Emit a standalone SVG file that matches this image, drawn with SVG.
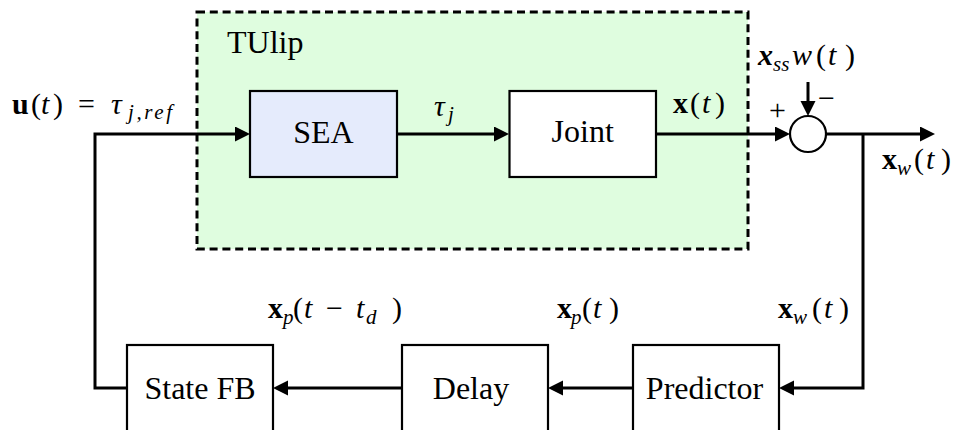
<svg xmlns="http://www.w3.org/2000/svg" width="953" height="430" viewBox="0 0 953 430">
<defs>
<marker id="arr" markerUnits="userSpaceOnUse" markerWidth="16" markerHeight="16" viewBox="0 0 16 16" refX="7" refY="7.5" orient="auto">
<path d="M0,0 L15,7.5 L0,15 z" fill="#000"/>
</marker>
</defs>
<rect fill="#fff" width="953" height="430"/>

<g id="tulip">
<rect x="197" y="12" width="551" height="237" fill="#dffddf" stroke="#000" stroke-width="3" stroke-dasharray="8 4.8"/>
<text x="227" y="53" font-family="Times New Roman, Liberation Serif, Tinos, serif" font-weight="normal" font-size="32">TUlip</text>
</g>

<g id="connectors" fill="none" stroke="#000" stroke-width="3" marker-end="url(#arr)">
<path d="M126.7,388 H95 V134 H242"/>
<path d="M397,134 H501"/>
<path d="M656,134 H782"/>
<path d="M808,82 V108"/>
<path d="M826,134 H927"/>
<path d="M863,134 V388 H787"/>
<path d="M633,388 H556"/>
<path d="M402,388 H281"/>
</g>

<g font-size="32" text-anchor="middle" stroke-width="2.2">
<g id="sea">
<rect x="250" y="91" width="147" height="86" fill="#e5ebfc" stroke="#000"/>
<text x="323.5" y="143" font-family="Times New Roman, Liberation Serif, Tinos, serif" font-weight="normal">SEA</text>
</g>
<g id="joint">
<rect x="509.5" y="91" width="146.5" height="86" fill="#fff" stroke="#000"/>
<text x="582.7" y="142" font-family="Times New Roman, Liberation Serif, Tinos, serif" font-weight="normal">Joint</text>
</g>
<g id="statefb">
<rect x="127" y="345" width="146" height="90" fill="#fff" stroke="#000"/>
<text x="200" y="399" font-family="Times New Roman, Liberation Serif, Tinos, serif" font-weight="normal">State FB</text>
</g>
<g id="delay">
<rect x="402" y="345" width="146" height="90" fill="#fff" stroke="#000"/>
<text x="471" y="399" font-family="Times New Roman, Liberation Serif, Tinos, serif" font-weight="normal">Delay</text>
</g>
<g id="predictor">
<rect x="633" y="345" width="146" height="90" fill="#fff" stroke="#000"/>
<text x="704.5" y="399" font-family="Times New Roman, Liberation Serif, Tinos, serif" font-weight="normal">Predictor</text>
</g>
</g>

<g id="sum" font-size="30">
<circle cx="808" cy="134" r="18" fill="#fff" stroke="#000" stroke-width="2.2"/>
<text x="769" y="120" font-family="Times New Roman, Liberation Serif, Tinos, serif">+</text>
<text x="818" y="107.5" font-family="Times New Roman, Liberation Serif, Tinos, serif">−</text>
</g>

<g id="labels" font-size="30">
<text y="114" font-family="Times New Roman, Liberation Serif, Tinos, serif"><tspan font-weight="bold" x="12">u</tspan><tspan x="31">(</tspan><tspan font-style="italic" x="41">t</tspan><tspan x="53">)</tspan><tspan x="78">=</tspan><tspan font-style="italic" x="111">τ</tspan></text>
<text x="128" y="119" font-size="21" font-style="italic" font-family="Times New Roman, Liberation Serif, Tinos, serif" textLength="44">j,ref</text>

<text y="116" x="434" font-style="italic" font-family="Times New Roman, Liberation Serif, Tinos, serif">τ</text>
<text x="448" y="121" font-size="21" font-style="italic" font-family="Times New Roman, Liberation Serif, Tinos, serif">j</text>

<text y="113" font-family="Times New Roman, Liberation Serif, Tinos, serif"><tspan font-weight="bold" x="673">x</tspan><tspan x="690">(</tspan><tspan font-style="italic" x="702">t</tspan><tspan x="715">)</tspan></text>

<text y="65" font-family="Times New Roman, Liberation Serif, Tinos, serif"><tspan font-weight="bold" font-style="italic" x="758">x</tspan><tspan font-style="italic" x="792">w</tspan><tspan x="816">(</tspan><tspan font-style="italic" x="828">t</tspan><tspan x="845">)</tspan></text>
<text x="773" y="71" font-size="21" font-style="italic" font-family="Times New Roman, Liberation Serif, Tinos, serif">ss</text>

<text y="169" font-family="Times New Roman, Liberation Serif, Tinos, serif"><tspan font-weight="bold" x="882">x</tspan><tspan x="914">(</tspan><tspan font-style="italic" x="926">t</tspan><tspan x="941">)</tspan></text>
<text x="897" y="175" font-size="21" font-style="italic" font-family="Times New Roman, Liberation Serif, Tinos, serif">w</text>

<text y="318" font-family="Times New Roman, Liberation Serif, Tinos, serif"><tspan font-weight="bold" x="268">x</tspan><tspan x="293">(</tspan><tspan font-style="italic" x="304">t</tspan><tspan x="326">−</tspan><tspan font-style="italic" x="356">t</tspan><tspan x="392">)</tspan></text>
<text x="283" y="324" font-size="21" font-style="italic" font-family="Times New Roman, Liberation Serif, Tinos, serif">p</text>
<text x="366" y="324" font-size="21" font-style="italic" font-family="Times New Roman, Liberation Serif, Tinos, serif">d</text>

<text y="318" font-family="Times New Roman, Liberation Serif, Tinos, serif"><tspan font-weight="bold" x="557">x</tspan><tspan x="582">(</tspan><tspan font-style="italic" x="593">t</tspan><tspan x="609">)</tspan></text>
<text x="571" y="324" font-size="21" font-style="italic" font-family="Times New Roman, Liberation Serif, Tinos, serif">p</text>

<text y="318" font-family="Times New Roman, Liberation Serif, Tinos, serif"><tspan font-weight="bold" x="778">x</tspan><tspan x="812">(</tspan><tspan font-style="italic" x="824">t</tspan><tspan x="839">)</tspan></text>
<text x="793" y="324" font-size="21" font-style="italic" font-family="Times New Roman, Liberation Serif, Tinos, serif">w</text>
</g>
</svg>
